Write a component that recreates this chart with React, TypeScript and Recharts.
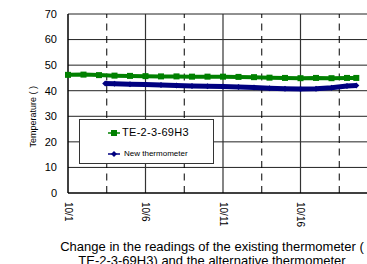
import React from "react";
import {
  LineChart,
  Line,
  XAxis,
  YAxis,
  Legend,
  ReferenceLine,
} from "recharts";

const greenDays = [0, 1, 2, 3, 4, 5, 6, 7, 8, 9, 10, 11, 12, 13, 14, 15, 16, 17, 18, 18.6];
const greenTemp = [46.2, 46.3, 46.1, 45.9, 45.8, 45.7, 45.6, 45.6, 45.5, 45.5, 45.5, 45.4, 45.3, 45.1, 45.0, 44.9, 45.0, 44.9, 45.0, 45.0];

const blueDays = [2.4, 3, 4, 5, 6, 7, 8, 9, 10, 11, 12, 13, 14, 15, 16, 17, 18, 18.6];
const blueTemp = [42.8, 42.7, 42.5, 42.4, 42.2, 42.0, 41.8, 41.7, 41.6, 41.5, 41.3, 41.0, 40.8, 40.7, 40.8, 41.2, 41.8, 42.0];

const xTicks = [0, 5, 10, 15];
const xLabels = ["10/1", "10/6", "10/11", "10/16"];
const dashedX = [2.5, 7.5, 12.5, 17.5];
const yTicks = [0, 10, 20, 30, 40, 50, 60, 70];

const GREEN = "#008000";
const NAVY = "#000080";
const FONT = "'Liberation Sans', Arial, sans-serif";

const greenData = greenDays.map((d, i) => ({ day: d, temp: greenTemp[i] }));
const blueData = blueDays.map((d, i) => ({ day: d, temp: blueTemp[i] }));

function XTick(props: any) {
  const { x, y, payload } = props;
  const label = xLabels[xTicks.indexOf(payload.value)] ?? "";
  return (
    <text
      transform={`translate(${x},${y}) rotate(90)`}
      x={0}
      y={0}
      textAnchor="start"
      dominantBaseline="central"
      fontSize={10}
      fontFamily={FONT}
      fill="#000"
    >
      {label}
    </text>
  );
}

function Square(props: any) {
  const { cx, cy } = props;
  if (cx == null || cy == null) return null;
  return <rect x={cx - 3} y={cy - 3} width={6} height={6} fill={GREEN} />;
}

function Diamond(props: any) {
  const { cx, cy } = props;
  if (cx == null || cy == null) return null;
  return (
    <polygon
      points={`${cx},${cy - 3} ${cx + 3},${cy} ${cx},${cy + 3} ${cx - 3},${cy}`}
      fill={NAVY}
    />
  );
}

function LegendBox() {
  return (
    <div
      style={{
        width: 133,
        height: 43,
        border: "1.5px solid #333",
        background: "#fff",
        fontFamily: FONT,
        position: "relative",
      }}
    >
      <svg width={20} height={43} style={{ position: "absolute", left: 27, top: 0 }}>
        <line x1={1} y1={13} x2={13} y2={13} stroke={GREEN} strokeWidth={1.5} />
        <rect x={4} y={10} width={6} height={6} fill={GREEN} />
        <line x1={1} y1={34} x2={13} y2={34} stroke={NAVY} strokeWidth={1.5} />
        <polygon points="7,31 10,34 7,37 4,34" fill={NAVY} />
      </svg>
      <div
        style={{
          position: "absolute",
          left: 42,
          top: 6,
          fontSize: 11,
          letterSpacing: 0.3,
          whiteSpace: "nowrap",
        }}
      >
        TE-2-3-69H3
      </div>
      <div
        style={{
          position: "absolute",
          left: 44,
          top: 29,
          fontSize: 8,
          whiteSpace: "nowrap",
        }}
      >
        New thermometer
      </div>
    </div>
  );
}

export default function App() {
  return (
    <div
      style={{
        position: "absolute",
        left: 0,
        top: 0,
        width: 367,
        height: 264,
        overflow: "hidden",
        background: "#fff",
      }}
    >
      <LineChart
        width={390}
        height={264}
        margin={{ top: 14, right: 12, left: 8, bottom: 31 }}
      >
        <XAxis
          type="number"
          dataKey="day"
          domain={[0, 20]}
          ticks={xTicks}
          tick={<XTick />}
          tickLine={false}
          tickSize={0}
          tickMargin={9}
          height={40}
          axisLine={{ stroke: "#000", strokeWidth: 1.5 }}
          allowDuplicatedCategory={false}
        />
        <YAxis
          type="number"
          domain={[0, 70]}
          ticks={yTicks}
          width={60}
          tickLine={false}
          tickSize={0}
          tickMargin={11}
          axisLine={{ stroke: "#000", strokeWidth: 1.5 }}
          tick={{ fontSize: 11, fill: "#000", fontFamily: FONT }}
          label={{
            value: "Temperature ( )",
            angle: -90,
            position: "insideLeft",
            dx: 20,
            dy: 44,
            fontSize: 9,
            fontFamily: FONT,
            fill: "#000",
          }}
        />
        {yTicks.slice(1).map((v) => (
          <ReferenceLine key={`h${v}`} y={v} stroke="#222" strokeWidth={1} />
        ))}
        {xTicks.slice(1).map((v) => (
          <ReferenceLine key={`v${v}`} x={v} stroke="#333" strokeWidth={1.2} />
        ))}
        {dashedX.map((v) => (
          <ReferenceLine
            key={`d${v}`}
            x={v}
            stroke="#000"
            strokeWidth={1}
            strokeDasharray="7 5.5"
          />
        ))}
        <Line
          data={greenData}
          dataKey="temp"
          name="TE-2-3-69H3"
          stroke={GREEN}
          strokeWidth={4}
          dot={<Square />}
          isAnimationActive={false}
        />
        <Line
          data={blueData}
          dataKey="temp"
          name="New thermometer"
          stroke={NAVY}
          strokeWidth={5}
          dot={<Diamond />}
          isAnimationActive={false}
        />
        <Legend
          layout="horizontal"
          verticalAlign="middle"
          align="center"
          content={() => <LegendBox />}
          wrapperStyle={{ left: 79, top: 119, width: 136, height: 46 }}
        />
      </LineChart>
      <div
        style={{
          position: "absolute",
          left: 0,
          width: 424,
          top: 240,
          textAlign: "center",
          fontFamily: FONT,
          fontSize: 13,
          lineHeight: "14px",
          color: "#000",
        }}
      >
        Change in the readings of the existing thermometer (
        <br />
        TE-2-3-69H3) and the alternative thermometer
      </div>
    </div>
  );
}
